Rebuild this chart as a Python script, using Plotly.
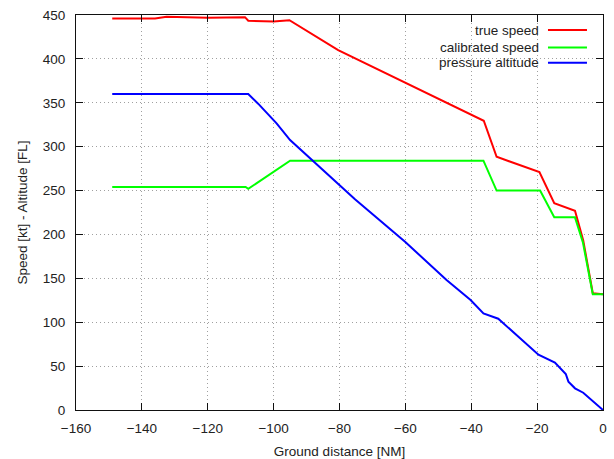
import plotly.graph_objects as go

# Data
tas_x = [-149, -136, -132.5, -120, -108.7, -107.7, -100, -95.2, -80.4, -60, -40.4, -36.2, -32.3, -19.3, -14.8, -8.5, -6, -3.1, 0]
tas_y = [446, 446, 448, 447, 447.5, 443.5, 442.5, 444, 410, 373, 337, 329.5, 288.5, 271, 235.5, 227, 193, 133, 132]

cas_x = [-149, -108.5, -107.7, -95, -36.3, -32.3, -19.1, -14.8, -8.5, -6.1, -3.1, 0]
cas_y = [254, 254, 252, 284, 284, 250, 250, 219.5, 219.5, 191, 132, 132]

alt_x = [-149, -107.7, -104.7, -99.1, -95, -89, -75.3, -60.1, -47.5, -40.2, -36.3, -31.8, -19.6, -14.6, -11.3, -10.5, -8.5, -6, 0]
alt_y = [360, 360, 349, 326.5, 307.5, 287, 240, 191.7, 148, 125.3, 110, 104, 63, 54, 41, 32.3, 24.7, 19.7, 0]

series_names = ["true speed", "calibrated speed", "pressure altitude"]
series_colors = ["#ff0000", "#00ff00", "#0000ff"]

x_ticks = [-160, -140, -120, -100, -80, -60, -40, -20, 0]
y_ticks = [0, 50, 100, 150, 200, 250, 300, 350, 400, 450]

FONT = "Liberation Sans, Arial, sans-serif"
TXT = "#222222"
FS = 13.5

fig = go.Figure()
for xs, ys, name, col in zip([tas_x, cas_x, alt_x], [tas_y, cas_y, alt_y], series_names, series_colors):
    fig.add_trace(go.Scatter(x=xs, y=ys, mode="lines", name=name,
                             line=dict(color=col, width=2), showlegend=False))

# gnuplot-style legend: right-aligned text with a line sample on the right
leg_y = [0.962, 0.918, 0.879]
for name, col, ly in zip(series_names, series_colors, leg_y):
    fig.add_annotation(x=0.882, y=ly, xref="paper", yref="paper", text=name,
                       showarrow=False, xanchor="right", yanchor="middle",
                       font=dict(family=FONT, size=FS, color=TXT))
    fig.add_shape(type="line", xref="paper", yref="paper",
                  x0=0.8956, x1=0.9696, y0=ly, y1=ly,
                  line=dict(color=col, width=2))

axis_common = dict(
    showline=True, linecolor="#111111", linewidth=1, mirror="ticks",
    ticks="inside", ticklen=7, tickcolor="#111111", tickwidth=1,
    showgrid=True, gridcolor="#a0a0a0", griddash="1px,3px", gridwidth=1,
    zeroline=False,
    tickfont=dict(family=FONT, size=FS, color=TXT),
)

fig.update_xaxes(range=[-160, 0], tickvals=x_ticks, ticklabelstandoff=6,
                 title=dict(text="Ground distance [NM]", standoff=11,
                            font=dict(family=FONT, size=FS, color=TXT)),
                 **axis_common)
fig.update_yaxes(range=[0, 450], tickvals=y_ticks, ticklabelstandoff=7,
                 title=dict(text="Speed [kt] - Altitude [FL]", standoff=12,
                            font=dict(family=FONT, size=FS, color=TXT)),
                 **axis_common)

fig.update_layout(
    width=614, height=459,
    margin=dict(l=76, r=11, t=15, b=49, autoexpand=False),
    paper_bgcolor="white", plot_bgcolor="white",
    font=dict(family=FONT, size=FS, color=TXT),
)

fig.write_html("out.html", config={"displayModeBar": False},
               post_script="document.body.style.margin='0';document.body.style.overflow='hidden';")
